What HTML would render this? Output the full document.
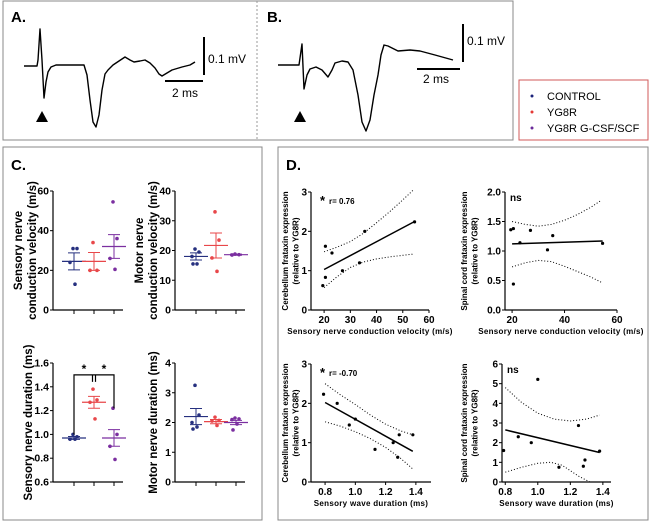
<!DOCTYPE html>
<html><head><meta charset="utf-8"><style>
body{margin:0;background:#fff;}
svg{display:block;font-family:"Liberation Sans",Arial,sans-serif;}
</style></head><body>
<svg id="s" width="650" height="522" viewBox="0 0 650 522">
<rect x="3" y="1" width="510" height="139" fill="none" stroke="#888" stroke-width="1"/>
<line x1="257" y1="1" x2="257" y2="140" stroke="#999" stroke-dasharray="2,2"/>
<rect x="3" y="147" width="259" height="373" fill="none" stroke="#888"/>
<rect x="278" y="147" width="370" height="373" fill="none" stroke="#888"/>
<text x="11" y="22" font-size="15" font-weight="bold">A.</text>
<text x="267" y="22" font-size="15" font-weight="bold">B.</text>
<text x="11" y="170" font-size="15" font-weight="bold">C.</text>
<text x="286" y="170" font-size="15" font-weight="bold">D.</text>
<path d="M24,66 L37,66 L38,60 L40,29 L42,60 L44,98 L46,82 L48,72 L51,67 L56,65 L84,65 L87,75 L90,100 L93,122 L96,127 L99,115 L102,90 L105,74 L108,70 L113,65 L119,61 L125,57 L130,60 L134,62 L140,61 L145,60 L150,63 L155,68 L159,74 L162,76 L167,73 L172,70 L182,67 L190,65 L195,62" fill="none" stroke="#000" stroke-width="1.4" stroke-linejoin="round"/>
<path d="M278,65 L299,65 L302,44 L304,89 L307,75 L310,69 L316,67 L322,70 L328,77 L332,70 L335,63 L342,61 L348,62 L353,70 L358,95 L362,122 L366,131 L370,120 L374,95 L378,75 L381,55 L384,45 L388,46 L392,48 L398,51 L410,50 L420,51 L435,55 L453,60" fill="none" stroke="#000" stroke-width="1.4" stroke-linejoin="round"/>
<line x1="204" y1="37" x2="204" y2="75" stroke="#000" stroke-width="2"/>
<line x1="165" y1="81" x2="203" y2="81" stroke="#000" stroke-width="2"/>
<text x="208" y="63" font-size="12">0.1 mV</text>
<text x="172" y="97" font-size="12">2 ms</text>
<line x1="463" y1="24" x2="463" y2="62" stroke="#000" stroke-width="2"/>
<line x1="417" y1="69" x2="460" y2="69" stroke="#000" stroke-width="2"/>
<text x="467" y="45" font-size="12">0.1 mV</text>
<text x="423" y="83" font-size="12">2 ms</text>
<polygon points="42,111 36,122 48,122" fill="#000"/>
<polygon points="300,111 294,122 306,122" fill="#000"/>
<g>
<rect x="519" y="80" width="129" height="60" fill="#fff" stroke="#d05a5a"/>
<circle cx="532" cy="96" r="1.5" fill="#1b237a"/>
<text x="547" y="100" font-size="11">CONTROL</text>
<circle cx="532" cy="112" r="1.5" fill="#e53935"/>
<text x="547" y="116" font-size="11">YG8R</text>
<circle cx="532" cy="128" r="1.5" fill="#6a2a9a"/>
<text x="547" y="132" font-size="11">YG8R G-CSF/SCF</text>
</g>
</svg>
<script>
// ---- Panel C data ----
var groupColors = ["#26307f", "#e8474a", "#7b2fa0"];
var scvValues = [[31,31,24,13],[34,20,20],[54.5,36,26,20.5]];
var scvMean = [24.5,24.5,32]; var scvSem = [4.3,4.5,6];
var mcvValues = [[20.5,19.5,18,15.5,15.5],[33,23.5,17.5,13],[18.8,18.6,18.5]];
var mcvMean = [18,21.7,18.6]; var mcvSem = [1.2,4.2,0.2];
var sdValues = [[1.0,0.98,0.96,0.96],[1.38,1.29,1.27,1.13],[1.22,1.0,0.9,0.79]];
var sdMean = [0.97,1.27,0.97]; var sdSem = [0.012,0.05,0.07];
var mdValues = [[3.25,2.25,2.0,1.85,1.78],[2.18,2.07,2.05,1.9],[2.15,2.12,2.1,1.95,1.75]];
var mdMean = [2.2,2.03,2.0]; var mdSem = [0.27,0.07,0.07];
var scvTicks = [0,20,40,60]; var mcvTicks = [0,10,20,30,40];
var sdTicks = [0.6,0.8,1.0,1.2,1.4,1.6]; var mdTicks = [0,1,2,3,4];
// ---- Panel D data ----
var velX = [19.5,20.5,20.5,23,27,33.5,35.5,54.5];
var cbVelY = [0.62,0.83,1.62,1.45,1.0,1.2,2.0,2.24];
var scVelY = [1.36,0.44,1.38,1.14,1.35,1.02,1.26,1.13];
var cbVelFit = [[20,1.03],[54.5,2.25]];
var cbVelUp = [[20,1.48],[25,1.6],[30,1.74],[35,1.95],[40,2.22],[45,2.5],[50,2.8],[54,3.05]];
var cbVelLo = [[20,0.57],[25,0.85],[30,1.08],[35,1.22],[40,1.3],[45,1.35],[50,1.39],[54,1.42]];
var scVelFit = [[20,1.12],[54.5,1.17]];
var scVelUp = [[20,1.5],[25,1.45],[30,1.42],[35,1.45],[40,1.52],[45,1.62],[50,1.74],[54,1.86]];
var scVelLo = [[20,0.73],[25,0.8],[30,0.84],[35,0.82],[40,0.74],[45,0.65],[50,0.56],[54,0.47]];
var durX = [0.79,0.88,0.96,1.0,1.13,1.25,1.28,1.29,1.38];
var cbDurY = [2.23,2.0,1.45,1.6,0.83,1.0,0.63,1.2,1.2];
var scDurY = [1.6,2.3,2.0,5.22,0.75,2.87,0.8,1.12,1.57];
var cbDurFit = [[0.8,2.02],[1.38,0.78]];
var cbDurUp = [[0.8,2.5],[0.9,2.22],[1.0,1.97],[1.1,1.7],[1.2,1.47],[1.3,1.3],[1.38,1.2]];
var cbDurLo = [[0.8,1.53],[0.9,1.42],[1.0,1.28],[1.1,1.1],[1.2,0.88],[1.3,0.6],[1.38,0.33]];
var scDurFit = [[0.8,2.65],[1.38,1.5]];
var scDurUp = [[0.8,4.8],[0.9,4.05],[1.0,3.5],[1.1,3.2],[1.2,3.1],[1.3,3.2],[1.38,3.4]];
var scDurLo = [[0.8,0.5],[0.9,0.75],[1.0,0.95],[1.08,1.0],[1.15,0.85],[1.25,0.3],[1.32,0.0]];
var velTicksA = [20,30,40,50,60]; var velTicksB = [20,40,60];
var cbTicks = [0,1,2,3]; var scTicksA = [0,0.5,1.0,1.5,2.0]; var durTicks = [0.8,1.0,1.2,1.4]; var scTicksB = [0,1,2,3,4,5,6];

var svg = document.getElementById('s');
var NS = "http://www.w3.org/2000/svg";
function mk(tag, attrs, parent){var e=document.createElementNS(NS,tag);for(var k in attrs)e.setAttribute(k,attrs[k]);(parent||svg).appendChild(e);return e;}
function lin(d0,d1,r0,r1){return function(v){return r0+(v-d0)/(d1-d0)*(r1-r0);};}

function yAxis(g,x,y,ticks,fmt,fs){
  var l=mk('line',{x1:x,y1:y(ticks[ticks.length-1]),x2:x,y2:y(ticks[0]),stroke:'#000','stroke-width':1.2},g);
  
  
  ticks.forEach(function(t){
    var tl=mk('line',{x1:x-3,y1:y(t),x2:x,y2:y(t),stroke:'#000'},g);
    
    
    var tx=mk('text',{x:x-4,y:y(t)+3.5,'font-size':fs,'font-weight':'bold','text-anchor':'end'},g);
    tx.textContent=fmt(t);
    
    
  });
}
function title(g,x,yc,lines,fs){
  lines.forEach(function(s,i){
    var t=mk('text',{x:x+i*(fs+2.5),y:yc,'font-size':fs,'font-weight':'bold','text-anchor':'middle',transform:'rotate(-90 '+(x+i*(fs+2.5))+' '+yc+')'},g);
    t.textContent=s;
    
    
  });
}

function scatterC(name,ax,top,bot,xr,ticks,vals,means,sems,fmt,tlines,tx){
  var g=mk('g',{});
  
  
  var y=lin(ticks[0],ticks[ticks.length-1],bot,top);
  yAxis(g,ax,y,ticks,fmt,10.5);
  var xl=mk('line',{x1:ax,y1:bot,x2:xr,y2:bot,stroke:'#000','stroke-width':1.2},g);
  
  
  var gx=[ax+21,ax+41,ax+61];
  gx.forEach(function(cx,i){
    var tk=mk('line',{x1:cx,y1:bot,x2:cx,y2:bot+4,stroke:'#000'},g);
    
    
    var c=groupColors[i];
    var ml=mk('line',{x1:cx-12,y1:y(means[i]),x2:cx+12,y2:y(means[i]),stroke:c,'stroke-width':1.2},g);
    
    
    var e=mk('path',{d:'M'+cx+','+y(means[i]-sems[i])+'V'+y(means[i]+sems[i])+'M'+(cx-6)+','+y(means[i]+sems[i])+'H'+(cx+6)+'M'+(cx-6)+','+y(means[i]-sems[i])+'H'+(cx+6),stroke:c,'stroke-width':1,fill:'none'},g);
    
    
    var n=vals[i].length;
    vals[i].forEach(function(v,j){
      var off=(n>1)?(j%2===0?-1:1)*Math.min(4,(j%3)*2+1):0;
      var d=mk('circle',{cx:cx+off,cy:y(v),r:1.8,fill:c},g);
      
      
    });
  });
  title(g,tx,(top+bot)/2,tlines,11.5);
  return {g:g,y:y,gx:gx};
}
var f0=function(t){return String(t);}, f1=function(t){return t.toFixed(1);};
scatterC('chart-sensory-velocity',53,191,310,123,scvTicks,scvValues,scvMean,scvSem,f0,['Sensory nerve','conduction velocity (m/s)'],22);
scatterC('chart-motor-velocity',175,191,310,245,mcvTicks,mcvValues,mcvMean,mcvSem,f0,['Motor nerve','conduction velocity (m/s)'],143);
var sd=scatterC('chart-sensory-duration',53,363,482,123,sdTicks,sdValues,sdMean,sdSem,f1,['Sensory nerve duration (ms)'],32);
scatterC('chart-motor-duration',175,363,482,245,mdTicks,mdValues,mdMean,mdSem,f0,['Motor nerve duration (ms)'],157);
// significance bracket
(function(){
  var g=sd.g,y=sd.y,gx=sd.gx,yb=y(1.5);
  var b=mk('path',{d:'M'+gx[0]+','+y(1.0)+'V'+yb+'H'+gx[2]+'V'+y(1.22)+'M'+(gx[1]-1.5)+','+yb+'V'+(yb+7)+'M'+(gx[1]+1.5)+','+yb+'V'+(yb+7),stroke:'#000','stroke-width':1.2,fill:'none'},g);
  
  
  [ (gx[0]+gx[1])/2, (gx[1]+gx[2])/2 ].forEach(function(x){
    var t=mk('text',{x:x,y:yb-2,'font-size':12,'font-weight':'bold','text-anchor':'middle'},g);
    t.textContent='*';
    
    
  });
})();

function corr(name,ax,top,bot,xd0,xd1,xr,xticks,yticks,xf,yf,xs,ys,fit,up,lo,xtitle,ytl,ytx,note,star){
  var g=mk('g',{});
  
  
  var y=lin(yticks[0],yticks[yticks.length-1],bot,top);
  var x=lin(xd0,xd1,ax,xr);
  yAxis(g,ax,y,yticks,yf,10);
  var xl=mk('line',{x1:ax,y1:bot,x2:xr,y2:bot,stroke:'#000','stroke-width':1.2},g);
  
  
  xticks.forEach(function(t){
    var tk=mk('line',{x1:x(t),y1:bot,x2:x(t),y2:bot+3,stroke:'#000'},g);
    
    
    var tt=mk('text',{x:x(t),y:bot+13,'font-size':10,'font-weight':'bold','text-anchor':'middle'},g);
    tt.textContent=xf(t);
    
    
  });
  var xt=mk('text',{x:(ax+xr)/2,y:bot+24,'font-size':8,'font-weight':'bold','text-anchor':'middle','letter-spacing':'0.3'},g);
  xt.textContent=xtitle;
  
  
  title(g,ytx,(top+bot)/2,ytl,8);
  function pl(pts){return pts.map(function(p,i){return (i?'L':'M')+x(p[0]).toFixed(1)+','+y(p[1]).toFixed(1);}).join('');}
  var fl=mk('path',{d:pl(fit),stroke:'#000','stroke-width':1.5,fill:'none'},g);
  
  
  [up,lo].forEach(function(c){
    var p=mk('path',{d:pl(c),stroke:'#000','stroke-width':1,'stroke-dasharray':'1,2',fill:'none'},g);
    
    
  });
  xs.forEach(function(v,i){
    var d=mk('circle',{cx:x(v),cy:y(ys[i]),r:1.6,fill:'#000'},g);
    
    
  });
  if(star){
    var s=mk('text',{x:ax+9,y:top+13,'font-size':13,'font-weight':'bold'},g);
    s.textContent='*';
    
    
  }
  var n=mk('text',{x:star?ax+18:ax+5,y:star?top+12:top+9,'font-size':star?8:10,'font-weight':'bold'},g);
  n.textContent=note;
  
  
}
var fd=function(t){return t.toFixed(1);};
corr('chart-cerebellum-velocity',311,192,310,15,60,429,velTicksA,cbTicks,f0,f0,velX,cbVelY,cbVelFit,cbVelUp,cbVelLo,'Sensory nerve conduction velocity (m/s)',['Cerebellum frataxin expression','(relative to YG8R)'],288,'r= 0.76',true);
corr('chart-spinal-velocity',505,192,310,17.3,60,617,velTicksB,scTicksA,f0,fd,velX,scVelY,scVelFit,scVelUp,scVelLo,'Sensory nerve conduction velocity (m/s)',['Spinal cord frataxin expression','(relative to YG8R)'],467,'ns',false);
corr('chart-cerebellum-duration',311,364,482,0.707,1.5,431,durTicks,cbTicks,fd,f0,durX,cbDurY,cbDurFit,cbDurUp,cbDurLo,'Sensory wave duration (ms)',['Cerebellum frataxin expression','(relative to YG8R)'],288,'r= -0.70',true);
corr('chart-spinal-duration',502,364,482,0.78,1.45,611,durTicks,scTicksB,fd,f0,durX,scDurY,scDurFit,scDurUp,scDurLo,'Sensory wave duration (ms)',['Spinal cord frataxin expression','(relative to YG8R)'],467,'ns',false);
</script>
</body></html>
